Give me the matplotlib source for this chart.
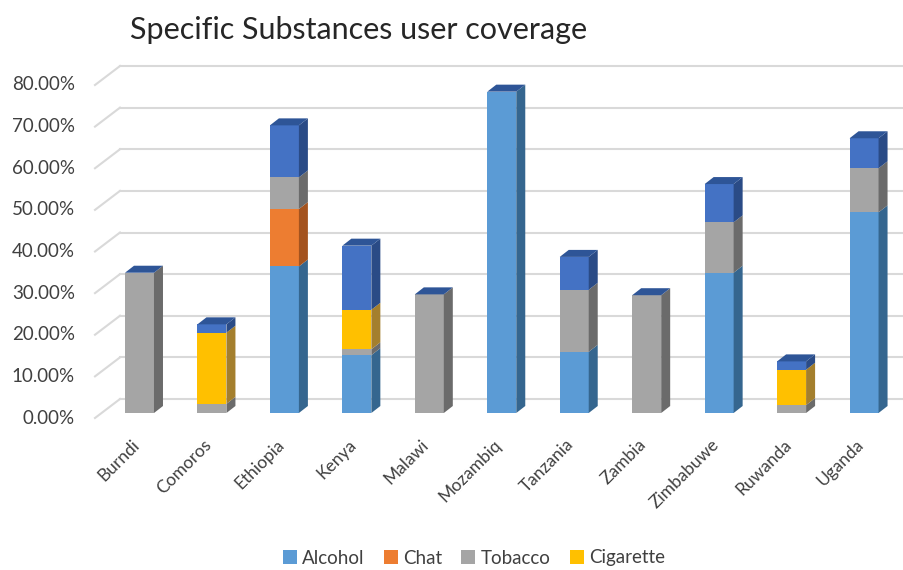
import matplotlib.pyplot as plt
from matplotlib.patches import Polygon, Patch
from matplotlib.lines import Line2D
from matplotlib.transforms import IdentityTransform

plt.rcParams['font.family'] = ['Lato', 'DejaVu Sans']

countries = ["Burndi", "Comoros", "Ethiopia", "Kenya", "Malawi", "Mozambiq",
             "Tanzania", "Zambia", "Zimbabuwe", "Ruwanda", "Uganda"]
# values in percent
alcohol = [0, 0, 35.2, 13.9, 0, 77.2, 14.7, 0, 33.7, 0, 48.2]
chat = [0, 0, 13.8, 0, 0, 0, 0, 0, 0, 0, 0]
tobacco = [33.7, 2.2, 7.6, 1.4, 28.5, 0, 14.9, 28.3, 12.1, 1.9, 10.6]
cigarette = [0, 17.1, 0, 9.5, 0, 0, 0, 0, 0, 8.5, 0]
other = [0, 2.0, 12.5, 15.4, 0, 0, 7.9, 0, 9.2, 2.0, 7.2]
yticks = [0, 10, 20, 30, 40, 50, 60, 70, 80]

series = [
    ("Alcohol", alcohol, "#5B9BD5", "#35668F", True),
    ("Chat", chat, "#ED7D31", "#A4531E", True),
    ("Tobacco", tobacco, "#A5A5A5", "#6B6B6B", True),
    ("Cigarette", cigarette, "#FFC000", "#A47F2D", True),
    ("Other", other, "#4472C4", "#2A4B86", False),
]
top_color = "#2E5597"
grid_color = "#D9D9D9"
text_color = "#404040"

DX, DY = 9, 7          # bar depth in pixels
GX, GY = 25, 19        # wall depth in pixels

fig = plt.figure(figsize=(9.04, 5.70), dpi=100)
ax = fig.add_axes([95 / 904, 157 / 570, 785 / 904, 333 / 570])
ax.axis("off")
x = list(range(len(countries)))
w = 0.40


def px(xv, yv):
    return ax.transData.transform((xv, yv))


def setlims():
    ax.set_xlim(-0.614, 10.22)
    ax.set_ylim(0, 80)


setlims()
idt = IdentityTransform()
fig_w = fig.bbox.width

# back wall grid with the slanted floor edge on the left
for v in yticks:
    x0, y0 = px(-0.614, v)
    ax.add_artist(Line2D([x0, x0 + GX], [y0 - 5, y0 - 5 + GY], transform=idt,
                         color=grid_color, lw=1.5, clip_on=False, zorder=0))
    ax.add_artist(Line2D([x0 + GX, fig_w], [y0 - 5 + GY, y0 - 5 + GY], transform=idt,
                         color=grid_color, lw=1.5, clip_on=False, zorder=0))
    ax.text(x0 - 20, y0 - 5, f"{v:.2f}%", transform=idt, ha="right", va="center",
            fontsize=13.5, color=text_color)

bottoms = [0.0] * len(x)
for name, vals, front, side, _ in series:
    ax.bar(x, vals, w, bottom=bottoms, color=front, linewidth=0, zorder=2)
    for i, v in enumerate(vals):
        if v <= 0:
            continue
        xa, ya = px(i + w / 2, bottoms[i])
        xb, yb = px(i + w / 2, bottoms[i] + v)
        ax.add_artist(Polygon([(xa, ya), (xb, yb), (xb + DX, yb + DY), (xa + DX, ya + DY)],
                              closed=True, transform=idt, facecolor=side,
                              edgecolor="none", zorder=2, clip_on=False))
    bottoms = [b + v for b, v in zip(bottoms, vals)]

# top faces
for i, t in enumerate(bottoms):
    xl, yt = px(i - w / 2, t)
    xr, _ = px(i + w / 2, t)
    ax.add_artist(Polygon([(xl, yt), (xr, yt), (xr + DX, yt + DY), (xl + DX, yt + DY)],
                          closed=True, transform=idt, facecolor=top_color,
                          edgecolor="none", zorder=3, clip_on=False))

for i, name in enumerate(countries):
    x0, y0 = px(i, 0)
    ax.text(x0 - 3, y0 - 29, name, transform=idt, rotation=45, rotation_mode="anchor",
            ha="right", va="center", fontsize=12.5, color=text_color)

setlims()

fig.text(130 / 904, 1 - 30 / 570, "Specific Substances user coverage", ha="left",
         va="center", fontsize=22, color="#262626")

handles = [Patch(facecolor=s[2], edgecolor="none") for s in series if s[4]]
labels = [s[0] for s in series if s[4]]
fig.legend(handles, labels, loc="center", bbox_to_anchor=(474 / 904, 1 - 558 / 570),
           ncol=4, frameon=False, fontsize=13.5, handlelength=0.75, handleheight=0.75,
           columnspacing=1.0, handletextpad=0.3, labelcolor=text_color,
           borderpad=0, borderaxespad=0)

fig.savefig("out.png", dpi=100)
